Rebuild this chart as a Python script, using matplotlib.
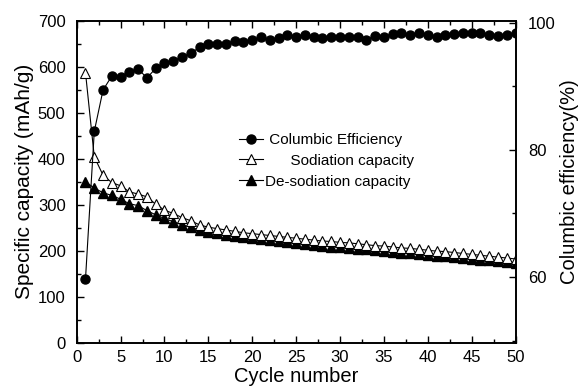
import numpy as np
import matplotlib
matplotlib.use('Agg')
import matplotlib.pyplot as plt
from matplotlib.ticker import MultipleLocator, FixedLocator

plt.rcParams['font.family'] = ['Liberation Sans', 'DejaVu Sans']

# номер цикла
cycles = np.arange(1, 51)

# кулоновская эффективность, %
efficiency = [59.7, 82.9, 89.4, 91.6, 91.5, 92.3, 92.7, 91.3, 92.8, 93.7,
              94.0, 94.6, 95.2, 96.1, 96.6, 96.7, 96.7, 97.1, 96.9, 97.2,
              97.7, 97.2, 97.5, 98.0, 97.7, 98.0, 97.8, 97.5, 97.8, 97.8,
              97.8, 97.8, 97.3, 97.9, 97.8, 98.2, 98.3, 98.0, 98.4, 98.0,
              97.8, 98.1, 98.2, 98.3, 98.4, 98.4, 98.0, 97.9, 98.0, 98.4]

# ёмкость натрирования, мАч/г
sodiation = [587, 404, 364, 348, 341, 328, 323, 317, 301, 288,
             281, 272, 265, 256, 251, 248, 245, 242, 239, 237,
             235, 233, 231, 229, 227, 225, 223, 221, 220, 218,
             217, 215, 213, 211, 210, 208, 206, 205, 203, 201,
             199, 198, 196, 194, 192, 190, 188, 186, 184, 182]

# ёмкость денатрирования, мАч/г
desodiation = [350, 336, 326, 320, 312, 302, 298, 287, 278, 270,
               263, 256, 251, 245, 241, 238, 235, 232, 229, 227,
               225, 223, 221, 219, 217, 215, 213, 211, 209, 208,
               206, 204, 203, 201, 199, 198, 196, 194, 193, 191,
               189, 188, 186, 184, 182, 180, 179, 177, 175, 173]

fig = plt.figure(figsize=(5.79, 3.89), dpi=100)
ax = fig.add_axes([0.1325, 0.119, 0.758, 0.828])
ax2 = ax.twinx()

l3, = ax.plot(cycles, desodiation, 'k-', marker='^', ms=7, mfc='k', mec='k', lw=0.8)
l2, = ax.plot(cycles, sodiation, 'k-', marker='^', ms=7.5, mfc='white', mec='k', mew=0.8, lw=0.8)
l1, = ax2.plot(cycles, efficiency, 'k-', marker='o', ms=6.5, mfc='k', mec='k', lw=0.8)

ax.set_xlim(0, 50)
ax.set_ylim(0, 700)
ax.xaxis.set_major_locator(MultipleLocator(5))
ax.xaxis.set_minor_locator(MultipleLocator(2.5))
ax.yaxis.set_major_locator(MultipleLocator(100))
ax.yaxis.set_minor_locator(MultipleLocator(50))
ax.tick_params(which='both', direction='in', top=True, labelsize=12, width=1)
ax.tick_params(which='major', length=5)
ax.tick_params(which='minor', length=3)
ax.tick_params(axis='y', pad=8)
ax.tick_params(axis='x', pad=5)

ax2.set_ylim(49.7, 100.3)
ax2.yaxis.set_major_locator(FixedLocator([60, 80, 100]))
ax2.yaxis.set_minor_locator(FixedLocator([50, 70, 90]))
ax2.tick_params(which='both', direction='in', labelsize=12, width=1, pad=9)
ax2.tick_params(which='major', length=5)
ax2.tick_params(which='minor', length=3)

for a in (ax, ax2):
    for s in a.spines.values():
        s.set_linewidth(1.2)

ax.set_xlabel('Cycle number', fontsize=14.5, labelpad=2)
ax.set_ylabel('Specific capacity (mAh/g)', fontsize=15, labelpad=3)
ax2.set_ylabel('Columbic efficiency(%)', fontsize=14.5, labelpad=3)

ax.legend([l1, l2, l3],
          [' Columbic Efficiency', '      Sodiation capacity', 'De-sodiation capacity'],
          loc='upper left', bbox_to_anchor=(0.352, 0.675), frameon=False,
          fontsize=11, handlelength=1.6, handletextpad=0.1, labelspacing=0.45,
          borderpad=0)

fig.savefig('out.png', dpi=100)
